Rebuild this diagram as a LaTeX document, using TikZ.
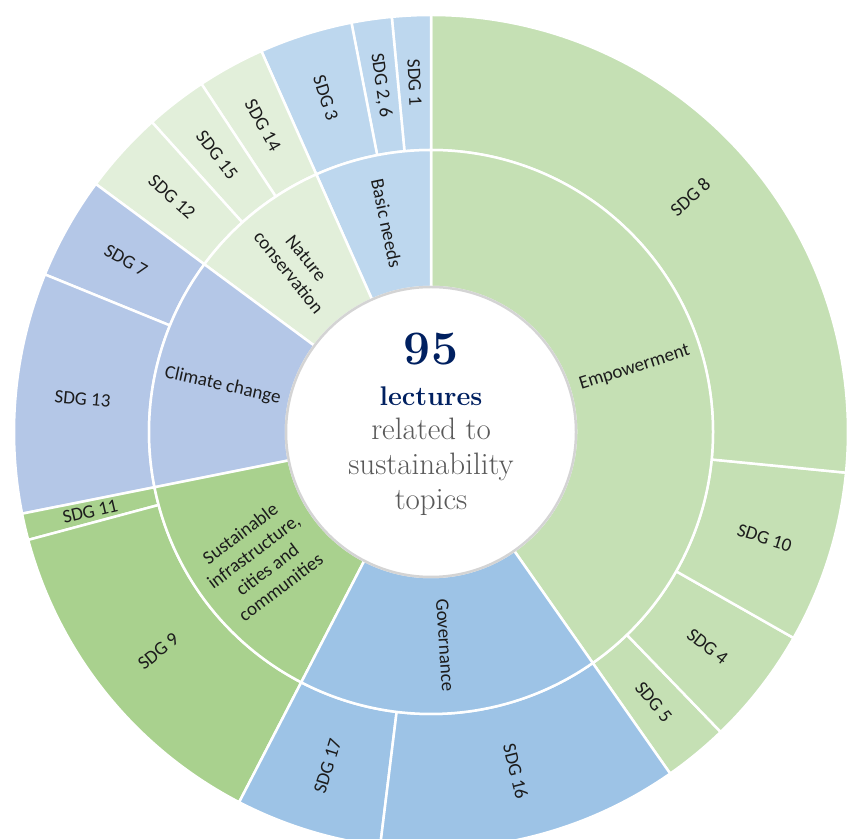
\documentclass[tikz,border=0pt]{standalone}
\usepackage{fontspec}
\newfontfamily\chartfont{Carlito}
\definecolor{empow}{HTML}{C5E0B4}
\definecolor{basic}{HTML}{BDD7EE}
\definecolor{nature}{HTML}{E2EFDA}
\definecolor{climate}{HTML}{B4C7E7}
\definecolor{infra}{HTML}{A9D18E}
\definecolor{gov}{HTML}{9DC3E6}
\definecolor{navy}{HTML}{002060}
\definecolor{greytext}{HTML}{595959}
\definecolor{rim}{HTML}{D4D4D4}
\definecolor{labeltext}{HTML}{1C1C1C}
\tikzstyle{base}=[x=1pt, y=1pt, inner sep=0pt, outer sep=0pt]
\tikzstyle{sep}=[draw=white, line width=2.5pt, line join=round]
\tikzstyle{lbl}=[text=labeltext, font=\chartfont\fontsize{19}{22.5}\selectfont, align=center]
\tikzstyle{centre}=[anchor=base, font=\fontsize{31}{35}\selectfont, text=greytext]
% inner radius, outer radius, start angle, end angle, colour
\newcommand*{\ringpart}[5]{%
  \filldraw [sep, fill=#5] (#3:#1) arc [start angle=#3, end angle=#4, radius=#1]
    -- (#4:#2) arc [start angle=#4, end angle=#3, radius=#2] -- cycle;}

\begin{document}
\begin{tikzpicture}[base]
    \useasboundingbox (0,0) rectangle (848,838);
    \clip (0,0) rectangle (848,838);
    \begin{scope}[shift={(431,406)}]
        % outer ring
        \ringpart{282}{417}{-55}{-46}{empow}
        \ringpart{282}{417}{-46}{-29.6}{empow}
        \ringpart{282}{417}{-29.6}{-5.6}{empow}
        \ringpart{282}{417}{-5.6}{90}{empow}
        \ringpart{282}{417}{90}{95.4}{basic}
        \ringpart{282}{417}{95.4}{101}{basic}
        \ringpart{282}{417}{101}{114}{basic}
        \ringpart{282}{417}{114}{123.4}{nature}
        \ringpart{282}{417}{123.4}{132}{nature}
        \ringpart{282}{417}{132}{143.5}{nature}
        \ringpart{282}{417}{143.5}{157.8}{climate}
        \ringpart{282}{417}{157.8}{191.3}{climate}
        \ringpart{282}{417}{191.3}{195}{infra}
        \ringpart{282}{417}{195}{242.6}{infra}
        \ringpart{282}{417}{242.6}{263}{gov}
        \ringpart{282}{417}{263}{305}{gov}
        % middle ring
        \ringpart{145}{282}{-55}{90}{empow}
        \ringpart{145}{282}{90}{114}{basic}
        \ringpart{145}{282}{114}{143.5}{nature}
        \ringpart{145}{282}{143.5}{191.3}{climate}
        \ringpart{145}{282}{191.3}{242.6}{infra}
        \ringpart{145}{282}{242.6}{305}{gov}
        % centre
        \filldraw [draw=rim, line width=2.5pt, fill=white] (0,0) circle [radius=145];

        \node [lbl, rotate=-50.5] (sdg5) at (-50.5:350) {SDG 5};
        \node [lbl, rotate=-37.8] (sdg4) at (-37.8:350) {SDG 4};
        \node [lbl, rotate=-17.6] (sdg10) at (-17.6:350) {SDG 10};
        \node [lbl, rotate=42.2] (sdg8) at (42.2:350) {SDG 8};
        \node [lbl, rotate=-87.3] (sdg1) at (92.7:350) {SDG 1};
        \node [lbl, rotate=-81.8] (sdg26) at (98.2:350) {SDG 2, 6};
        \node [lbl, rotate=-72.5] (sdg3) at (107.5:350) {SDG 3};
        \node [lbl, rotate=-61.3] (sdg14) at (118.7:350) {SDG 14};
        \node [lbl, rotate=-52.3] (sdg15) at (127.7:350) {SDG 15};
        \node [lbl, rotate=-42.25] (sdg12) at (137.75:350) {SDG 12};
        \node [lbl, rotate=-29.35] (sdg7) at (150.65:350) {SDG 7};
        \node [lbl, rotate=-5.45] (sdg13) at (174.55:350) {SDG 13};
        \node [lbl, rotate=13.15] (sdg11) at (193.15:350) {SDG 11};
        \node [lbl, rotate=38.8] (sdg9) at (218.8:350) {SDG 9};
        \node [lbl, rotate=72.8] (sdg17) at (252.8:350) {SDG 17};
        \node [lbl, rotate=-76] (sdg16) at (284:350) {SDG 16};

        \node [lbl, rotate=17.5] (empowerment) at (17.5:213.5) {Empowerment};
        \node [lbl, rotate=-78] (basicneeds) at (102:213.5) {Basic needs};
        \node [lbl, rotate=-51.25] (natcons) at (128.75:213.5) {Nature\\conservation};
        \node [lbl, rotate=-12.6] (climchange) at (167.4:213.5) {Climate change};
        \node [lbl, rotate=36.95] (infrastr) at (216.95:213.5) {Sustainable\\infrastructure,\\cities and\\communities};
        \node [lbl, rotate=-86.2] (governance) at (273.8:213.5) {Governance};

        \node [anchor=base, text=navy, font=\bfseries\fontsize{48}{52}\selectfont] (count) at (0,67) {95};
        \node [anchor=base, text=navy, font=\bfseries\fontsize{27}{32}\selectfont] (lectures) at (0,26) {lectures};
        \node [centre] (rel) at (0,-8) {related to};
        \node [centre] (sust) at (0,-43) {sustainability};
        \node [centre] (topics) at (0,-78) {topics};
    \end{scope}
\end{tikzpicture}
\end{document}
